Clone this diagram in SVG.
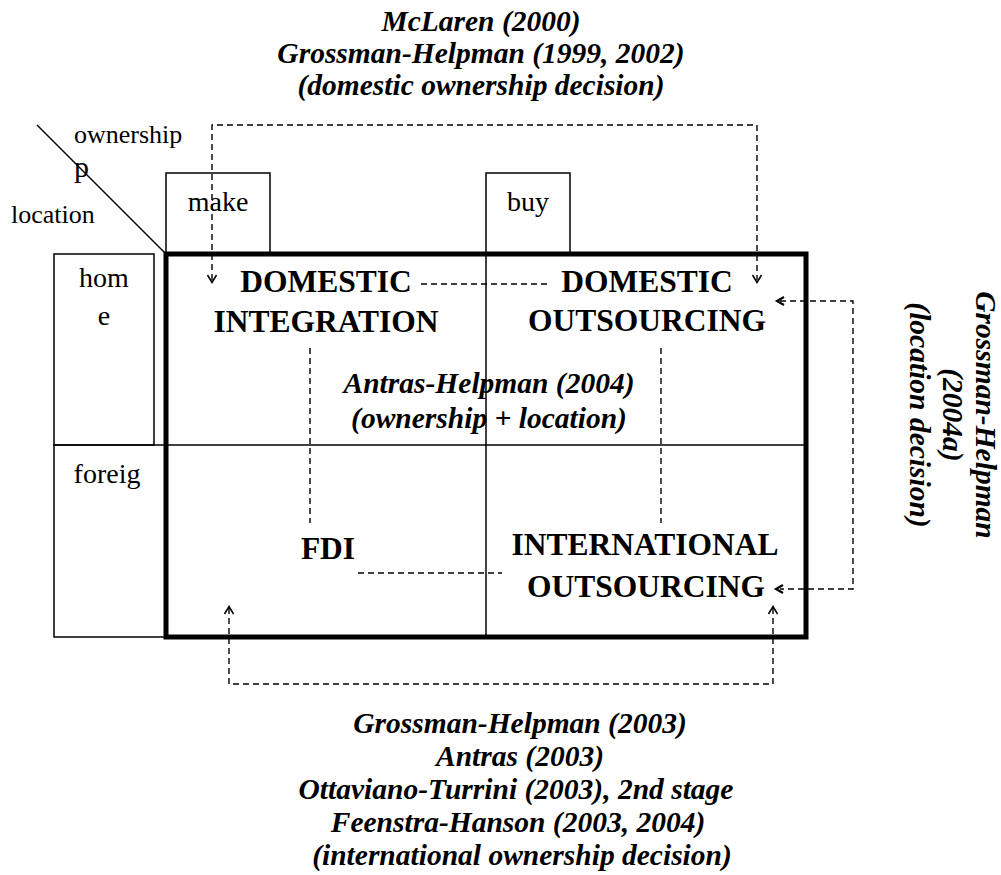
<svg xmlns="http://www.w3.org/2000/svg" width="1001" height="875" viewBox="0 0 1001 875">
<style>
text { font-family: "Liberation Serif", "Times New Roman", serif; fill: #000; }
.it { font-style: italic; font-weight: bold; font-size: 29.5px; text-anchor: middle; }
.lb { font-weight: bold; font-size: 31.5px; text-anchor: middle; }
.rg { font-size: 28px; }
.rs { font-size: 26px; }
.thin { fill: none; stroke: #000; stroke-width: 1.5; }
.thick { fill: none; stroke: #000; stroke-width: 5; }
.dash { fill: none; stroke: #000; stroke-width: 1.4; stroke-dasharray: 6 4; }
.arr { fill: none; stroke: #000; stroke-width: 1.5; }
.arrb { fill: none; stroke: #000; stroke-width: 2.2; }
</style>
<rect width="1001" height="875" fill="#fff"/>

<g id="corner-header">
  <line x1="37" y1="125" x2="166" y2="254" stroke="#000" stroke-width="1.5"/>
  <text class="rs" x="74" y="143">ownership</text>
  <text x="74" y="177" font-size="30">p</text>
  <text class="rs" x="11" y="223">location</text>
</g>

<g id="make">
  <rect class="thin" x="166" y="173" width="104" height="81"/>
  <text class="rg" x="218" y="211" text-anchor="middle">make</text>
</g>
<g id="buy">
  <rect class="thin" x="486" y="173" width="84" height="81"/>
  <text class="rg" x="528" y="211" text-anchor="middle">buy</text>
</g>
<g id="home">
  <rect class="thin" x="54" y="254" width="100" height="191"/>
  <text class="rg" x="104" y="287" text-anchor="middle">hom</text>
  <text class="rg" x="104" y="325" text-anchor="middle">e</text>
</g>
<g id="foreign">
  <rect class="thin" x="54" y="445" width="112" height="192"/>
  <text class="rg" x="107" y="483" text-anchor="middle">foreig</text>
</g>

<g id="matrix">
  <line x1="486" y1="254" x2="486" y2="637" stroke="#000" stroke-width="1.5"/>
  <line x1="166" y1="445" x2="806" y2="445" stroke="#000" stroke-width="1.5"/>
  <rect class="thick" x="166" y="254" width="640" height="383"/>
</g>

<g id="connectors">
  <path class="dash" d="M212,280 V125 H757 V280"/>
  <path class="arr" d="M207.5,275 L212,282.5 L216.5,275"/>
  <path class="arr" d="M752.5,275 L757,282.5 L761.5,275"/>
  <line class="dash" x1="421" y1="284" x2="550" y2="284"/>
  <path class="dash" d="M780,301 H853 V589 H780"/>
  <path class="arrb" d="M784,297 L777,301 L784,305"/>
  <path class="arrb" d="M783,585 L776,589 L783,593"/>
  <line class="dash" x1="310" y1="348" x2="310" y2="523"/>
  <line class="dash" x1="661" y1="348" x2="661" y2="523"/>
  <line class="dash" x1="358" y1="573" x2="502" y2="573"/>
  <path class="dash" d="M229,608 V684 H773 V608"/>
  <path class="arr" d="M224.5,614 L229,606.5 L233.5,614"/>
  <path class="arr" d="M768.5,614 L773,606.5 L777.5,614"/>
</g>

<g id="domestic-integration">
  <text class="lb" x="326" y="292">DOMESTIC</text>
  <text class="lb" x="326" y="332">INTEGRATION</text>
</g>
<g id="domestic-outsourcing">
  <text class="lb" x="647" y="292">DOMESTIC</text>
  <text class="lb" x="647" y="331">OUTSOURCING</text>
</g>
<g id="fdi">
  <text class="lb" x="328" y="559">FDI</text>
</g>
<g id="international-outsourcing">
  <text class="lb" x="645" y="555">INTERNATIONAL</text>
  <text class="lb" x="646" y="597">OUTSOURCING</text>
</g>

<g id="antras-helpman">
  <text class="it" x="489" y="393">Antras-Helpman (2004)</text>
  <text class="it" x="489" y="428">(ownership + location)</text>
</g>

<g id="top-refs">
  <text class="it" x="481" y="31">McLaren (2000)</text>
  <text class="it" x="481" y="63">Grossman-Helpman (1999, 2002)</text>
  <text class="it" x="481" y="95">(domestic ownership decision)</text>
</g>

<g id="right-refs">
  <g transform="translate(976,415) rotate(90)">
    <text class="it" x="0" y="0">Grossman-Helpman</text>
  </g>
  <g transform="translate(943,415) rotate(90)">
    <text class="it" x="0" y="0">(2004a)</text>
  </g>
  <g transform="translate(910,415) rotate(90)">
    <text class="it" x="0" y="0">(location decision)</text>
  </g>
</g>

<g id="bottom-refs">
  <text class="it" x="520" y="733">Grossman-Helpman (2003)</text>
  <text class="it" x="520" y="766">Antras (2003)</text>
  <text class="it" x="516" y="799">Ottaviano-Turrini (2003), 2nd stage</text>
  <text class="it" x="518" y="832">Feenstra-Hanson (2003, 2004)</text>
  <text class="it" x="522" y="865">(international ownership decision)</text>
</g>
</svg>
